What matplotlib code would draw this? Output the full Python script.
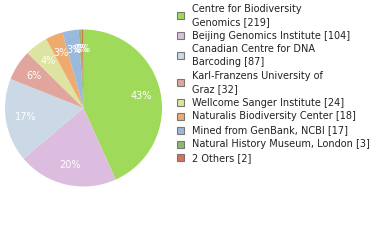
import matplotlib
matplotlib.use("Agg")
import matplotlib.pyplot as plt
from matplotlib.patches import Rectangle

labels = ["Centre for Biodiversity\nGenomics [219]",
          "Beijing Genomics Institute [104]",
          "Canadian Centre for DNA\nBarcoding [87]",
          "Karl-Franzens University of\nGraz [32]",
          "Wellcome Sanger Institute [24]",
          "Naturalis Biodiversity Center [18]",
          "Mined from GenBank, NCBI [17]",
          "Natural History Museum, London [3]",
          "2 Others [2]"]
counts = [219, 104, 87, 32, 24, 18, 17, 3, 2]
colors = ["#a0da5b", "#dcbde0", "#cbd8e5", "#e0a59c", "#dde3a0",
          "#efaa6d", "#9bb9dd", "#8fb96f", "#d9705a"]

W, H = 380, 240
fig = plt.figure(figsize=(W / 100, H / 100), dpi=100)

# pie centre / radius in pixels
cx, cy, r = 83.5, 108, 78.5
ax = fig.add_axes([(cx - r) / W, (H - cy - r) / H, 2 * r / W, 2 * r / H])
ax.pie(counts, colors=colors, startangle=90, counterclock=False,
       autopct=lambda p: "%d%%" % int(p), pctdistance=0.75,
       wedgeprops=dict(linewidth=0),
       textprops=dict(color="white", fontsize=7, family="DejaVu Sans"))
ax.set_xlim(-1, 1)
ax.set_ylim(-1, 1)
ax.set_aspect("equal")
ax.axis("off")

# legend drawn by hand
y = 9
line_h = 12.8
for lab, col in zip(labels, colors):
    n = lab.count("\n") + 1
    mid = y + (n - 1) * line_h / 2
    fig.patches.append(Rectangle(((177) / W, (H - mid - 3.5) / H), 7 / W, 7 / H,
                                 transform=fig.transFigure, facecolor=col,
                                 edgecolor="#777777", linewidth=0.8))
    for i, part in enumerate(lab.split("\n")):
        fig.text(192 / W, (H - y - i * line_h) / H, part, fontsize=7.0,
                 color="#222222", va="center", ha="left")
    y += n * line_h + 1

fig.savefig("out.png", dpi=100)
